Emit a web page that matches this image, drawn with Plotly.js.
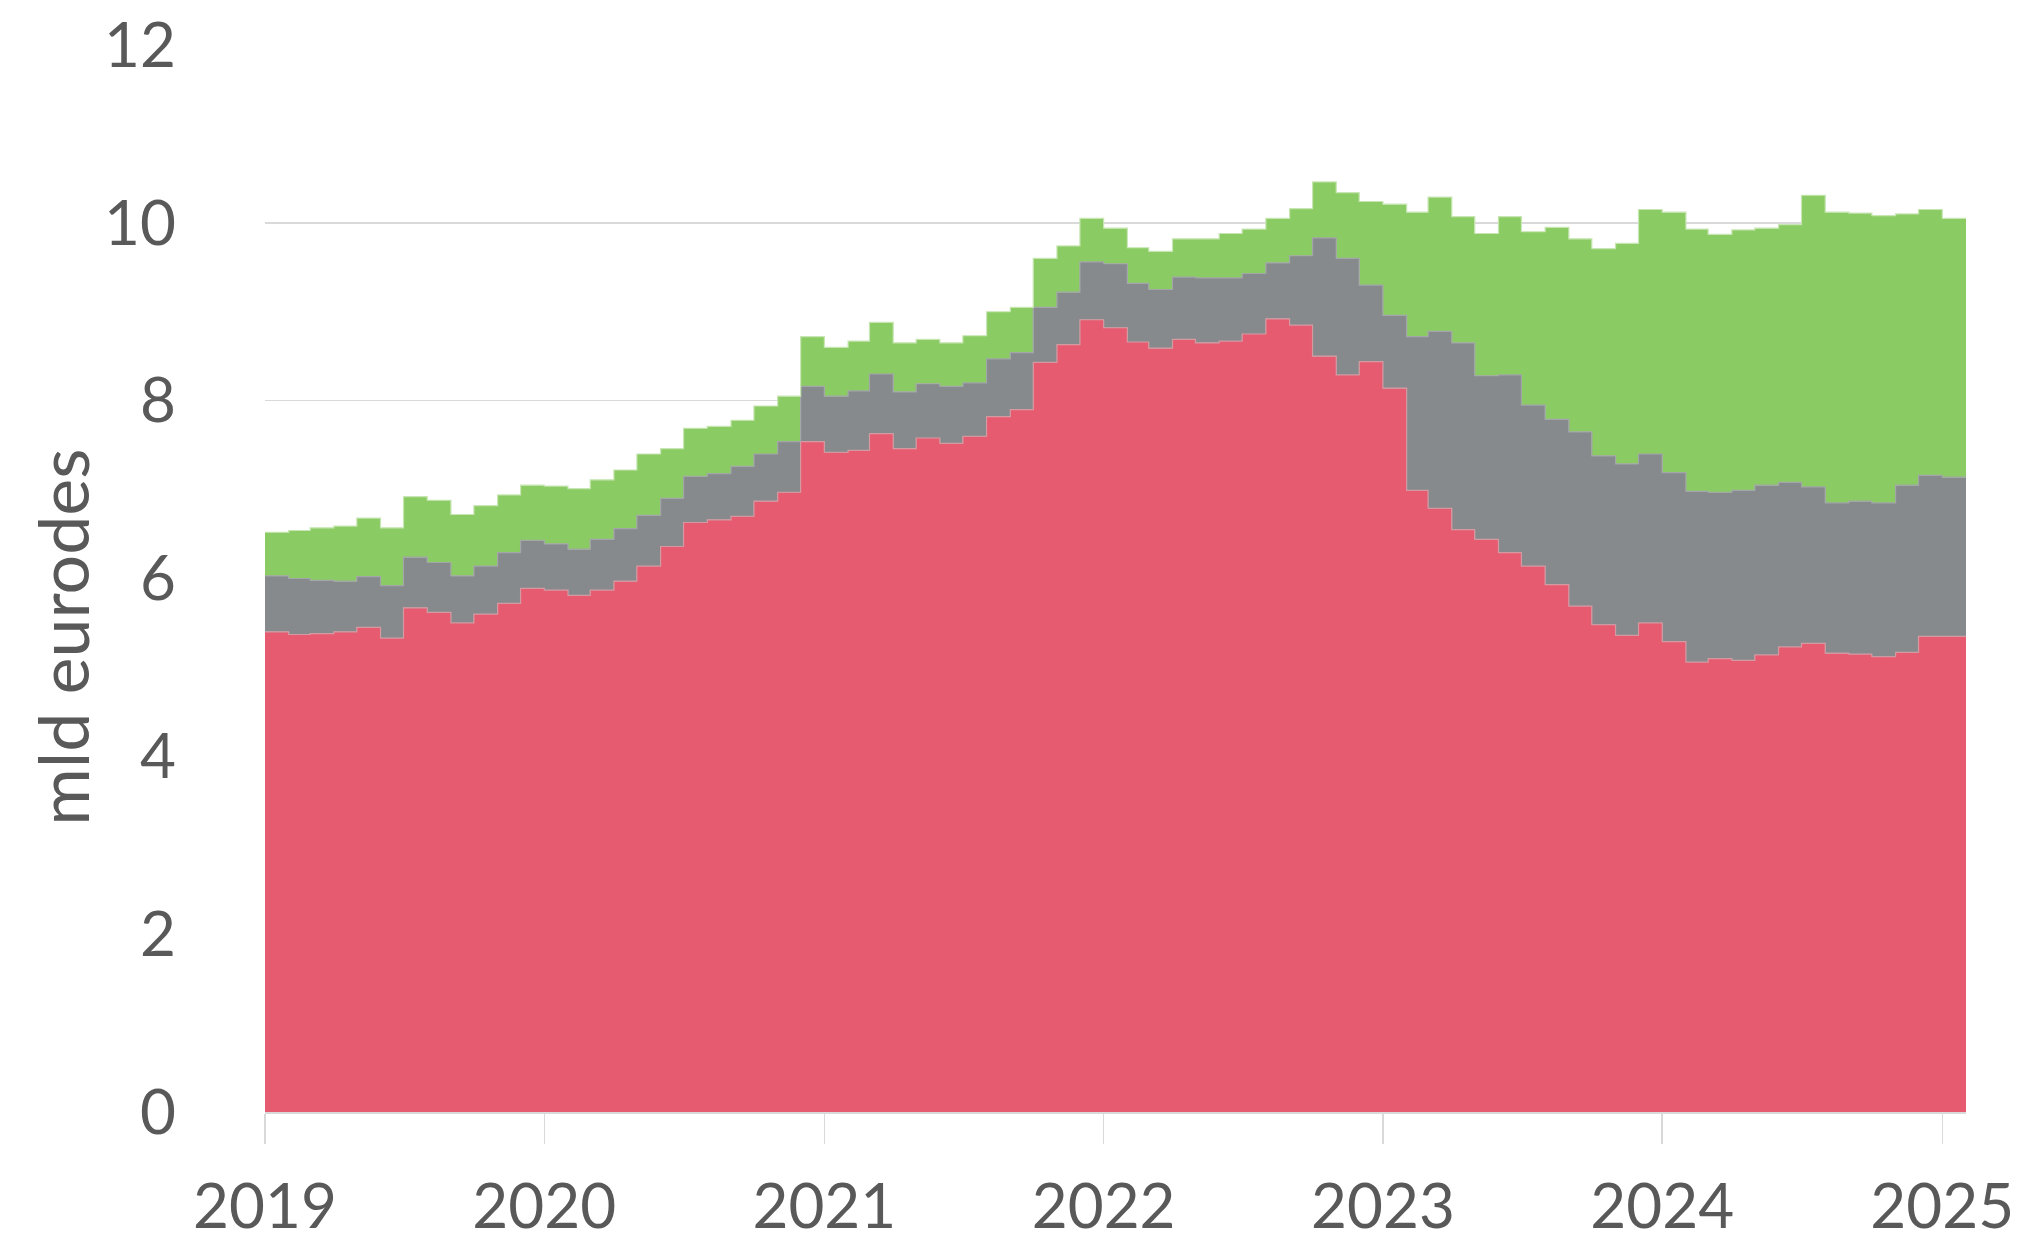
<!DOCTYPE html>
<html>
<head>
<meta charset="utf-8">
<script src="https://cdn.plot.ly/plotly-3.0.1.min.js"></script>
<style>html,body{margin:0;padding:0;background:#fff;}#chart{width:2034px;height:1243px;}</style>
</head>
<body>
<div id="chart"></div>
<script>
// Monthly values, Jan 2019 .. Jan 2025 (billion euros)
const red = [5.40,5.37,5.38,5.40,5.45,5.33,5.67,5.62,5.50,5.60,5.72,5.89,
             5.87,5.81,5.87,5.97,6.14,6.36,6.63,6.66,6.70,6.87,6.97,7.54,
             7.42,7.44,7.63,7.46,7.58,7.52,7.60,7.82,7.90,8.43,8.63,8.91,
             8.82,8.66,8.59,8.69,8.65,8.67,8.75,8.92,8.85,8.50,8.29,8.44,
             8.14,6.99,6.79,6.55,6.44,6.29,6.14,5.93,5.69,5.48,5.36,5.50,
             5.29,5.06,5.10,5.08,5.14,5.23,5.27,5.16,5.15,5.12,5.17,5.35,
             5.35];
const grey = [0.63,0.63,0.60,0.57,0.57,0.59,0.57,0.56,0.53,0.54,0.57,0.54,
              0.52,0.52,0.57,0.59,0.57,0.54,0.52,0.52,0.56,0.53,0.57,0.62,
              0.63,0.67,0.67,0.64,0.61,0.64,0.60,0.65,0.64,0.62,0.59,0.65,
              0.72,0.66,0.66,0.70,0.73,0.71,0.68,0.63,0.78,1.33,1.31,0.86,
              0.82,1.73,1.99,2.10,1.84,2.00,1.81,1.86,1.96,1.90,1.93,1.90,
              1.90,1.92,1.87,1.91,1.91,1.85,1.76,1.69,1.72,1.73,1.88,1.81,
              1.79];
const green = [0.49,0.54,0.59,0.62,0.66,0.65,0.68,0.70,0.69,0.68,0.65,0.62,
               0.65,0.68,0.67,0.66,0.69,0.56,0.54,0.53,0.52,0.54,0.51,0.56,
               0.55,0.56,0.58,0.55,0.50,0.49,0.53,0.53,0.51,0.55,0.52,0.49,
               0.40,0.40,0.43,0.43,0.44,0.50,0.50,0.50,0.53,0.63,0.74,0.94,
               1.25,1.40,1.51,1.42,1.60,1.78,1.95,2.16,2.17,2.33,2.48,2.75,
               2.93,2.95,2.90,2.93,2.89,2.90,3.28,3.27,3.24,3.23,3.05,2.99,
               2.91];
const yearLabels = ['2019','2020','2021','2022','2023','2024','2025'];

// month start dates
const months = [];
for (let i = 0; i < red.length; i++) {
  const y = 2019 + Math.floor(i / 12);
  const m = (i % 12) + 1;
  months.push(y + '-' + String(m).padStart(2, '0') + '-01');
}
// end of the last monthly step
const endDate = '2025-02-01';
const xs = months.concat([endDate]);
const ext = a => a.concat([a[a.length - 1]]);

const font = 'Lato, "Open Sans", sans-serif';
const traces = [
  {x: xs, y: ext(red), name: 'red', type: 'scatter', mode: 'lines', stackgroup: 'one',
   line: {shape: 'hv', width: 1.2, color: '#D49AA2'}, fillcolor: '#E75B70'},
  {x: xs, y: ext(grey), name: 'grey', type: 'scatter', mode: 'lines', stackgroup: 'one',
   line: {shape: 'hv', width: 1.2, color: '#A3A6A8'}, fillcolor: '#868A8C'},
  {x: xs, y: ext(green), name: 'green', type: 'scatter', mode: 'lines', stackgroup: 'one',
   line: {shape: 'hv', width: 1.2, color: '#C7E6B3'}, fillcolor: '#8BCB64'}
];

const layout = {
  width: 2034, height: 1243,
  margin: {l: 265, r: 68, t: 45, b: 131},
  paper_bgcolor: '#ffffff', plot_bgcolor: '#ffffff',
  showlegend: false,
  font: {family: font, color: '#595959'},
  xaxis: {
    type: 'date',
    range: ['2019-01-01', endDate],
    tickvals: yearLabels.map(y => y + '-01-01'),
    ticktext: yearLabels,
    ticks: 'outside', ticklen: 30, tickwidth: 1.5, tickcolor: '#D9D9D9',
    showgrid: false, zeroline: false,
    showline: true, linecolor: '#D9D9D9', linewidth: 1.5,
    ticklabelstandoff: 10,
    tickfont: {family: font, size: 62, color: '#595959'}
  },
  yaxis: {
    range: [0, 12], tick0: 0, dtick: 2,
    showgrid: true, gridcolor: '#D9D9D9', gridwidth: 1.5,
    zeroline: false, showline: false, ticks: '',
    ticklabelstandoff: 88,
    tickfont: {family: font, size: 62, color: '#595959'}
  },
  annotations: [{
    text: 'mld eurodes', xref: 'paper', yref: 'paper',
    x: -0.119, y: 0.445, xanchor: 'center', yanchor: 'middle',
    textangle: -90, showarrow: false,
    font: {family: font, size: 70, color: '#595959'}
  }]
};

Plotly.newPlot('chart', traces, layout, {displayModeBar: false, staticPlot: true});
</script>
</body>
</html>
